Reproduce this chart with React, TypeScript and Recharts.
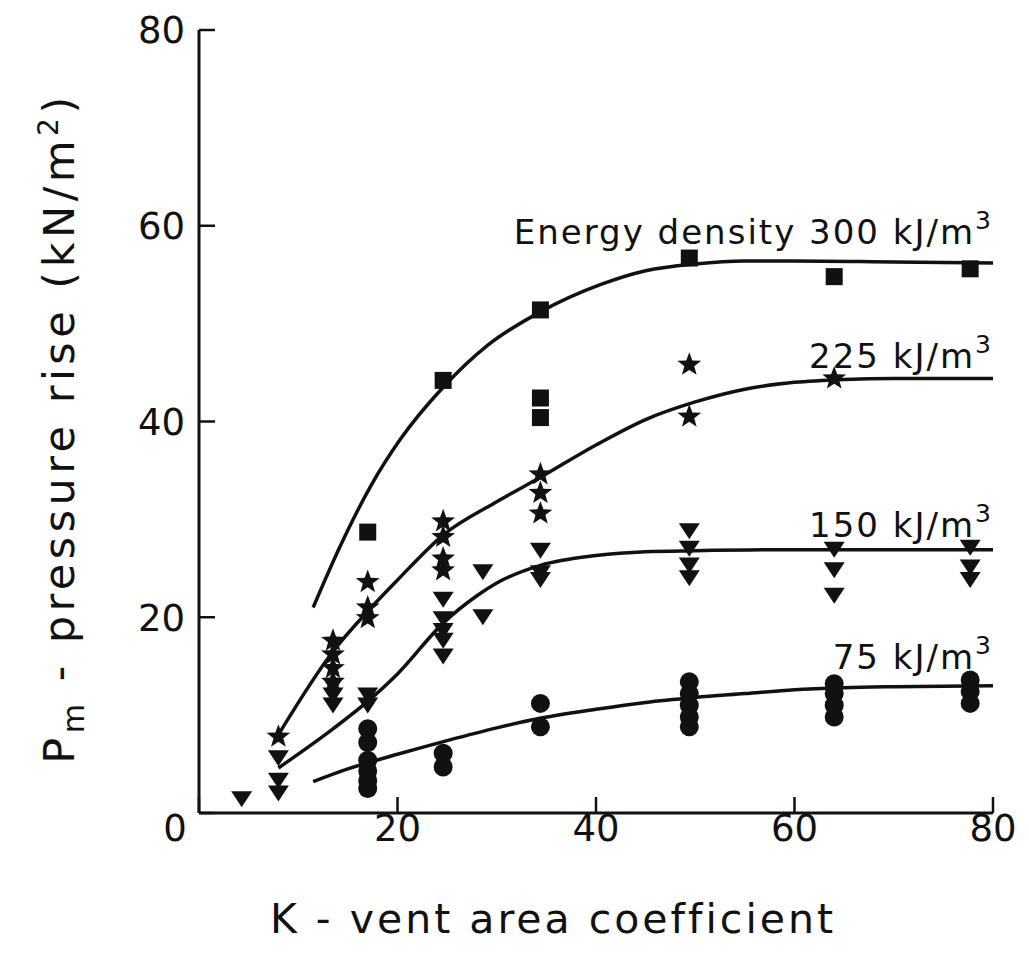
import { ComposedChart, Scatter, Line, XAxis, YAxis, Customized } from 'recharts';

const INK = '#111';
const FONT = '"DejaVu Sans", sans-serif';

// measured points: K (vent area coefficient) vs Pm (kN/m2)
const pts300 = [
  { k: 17, p: 28.7 }, { k: 24.6, p: 44.2 },
  { k: 34.4, p: 51.4 }, { k: 34.4, p: 42.4 }, { k: 34.4, p: 40.4 },
  { k: 49.4, p: 56.7 }, { k: 64, p: 54.8 }, { k: 77.7, p: 55.6 },
];
const pts225 = [
  { k: 8, p: 7.8 },
  { k: 13.5, p: 17.6 }, { k: 13.5, p: 16.2 }, { k: 13.5, p: 14.8 }, { k: 13.5, p: 13.4 },
  { k: 17, p: 23.6 }, { k: 17, p: 21 }, { k: 17, p: 19.9 },
  { k: 24.6, p: 29.8 }, { k: 24.6, p: 28.2 }, { k: 24.6, p: 26 }, { k: 24.6, p: 24.8 },
  { k: 34.4, p: 34.6 }, { k: 34.4, p: 32.7 }, { k: 34.4, p: 30.6 },
  { k: 49.4, p: 45.8 }, { k: 49.4, p: 40.5 },
  { k: 64, p: 44.4 },
];
const pts150 = [
  { k: 4.3, p: 1.6 },
  { k: 8, p: 5.8 }, { k: 8, p: 3.5 }, { k: 8, p: 2.2 },
  { k: 13.5, p: 13.2 }, { k: 13.5, p: 12.2 }, { k: 13.5, p: 11.2 },
  { k: 17, p: 12.2 }, { k: 17, p: 11.2 },
  { k: 24.6, p: 22 }, { k: 24.6, p: 20 }, { k: 24.6, p: 18.8 }, { k: 24.6, p: 17.8 }, { k: 24.6, p: 16.2 },
  { k: 28.6, p: 24.8 }, { k: 28.6, p: 20.2 },
  { k: 34.4, p: 27 }, { k: 34.4, p: 24.7 }, { k: 34.4, p: 24 },
  { k: 49.4, p: 29 }, { k: 49.4, p: 27.2 }, { k: 49.4, p: 25.5 }, { k: 49.4, p: 24.2 },
  { k: 64, p: 27.1 }, { k: 64, p: 25 }, { k: 64, p: 22.4 },
  { k: 77.7, p: 27.3 }, { k: 77.7, p: 25.3 }, { k: 77.7, p: 24 },
];
const pts75 = [
  { k: 17, p: 8.6 }, { k: 17, p: 7.2 }, { k: 17, p: 5.4 }, { k: 17, p: 4.3 }, { k: 17, p: 3.3 }, { k: 17, p: 2.5 },
  { k: 24.6, p: 6.1 }, { k: 24.6, p: 4.7 },
  { k: 34.4, p: 11.2 }, { k: 34.4, p: 8.8 },
  { k: 49.4, p: 13.4 }, { k: 49.4, p: 12.2 }, { k: 49.4, p: 11 }, { k: 49.4, p: 9.8 }, { k: 49.4, p: 8.8 },
  { k: 64, p: 13.2 }, { k: 64, p: 12.2 }, { k: 64, p: 11 }, { k: 64, p: 9.8 },
  { k: 77.7, p: 13.6 }, { k: 77.7, p: 12.4 }, { k: 77.7, p: 11.2 },
];

// hand-drawn fitted curves
const curve300 = [
  { k: 11.5, p: 21 }, { k: 14.2, p: 27.2 }, { k: 17.3, p: 33.4 }, { k: 20.3, p: 38.2 },
  { k: 24.6, p: 43.5 }, { k: 29.1, p: 47.8 }, { k: 34.4, p: 51.2 }, { k: 40.5, p: 54 },
  { k: 45, p: 55.4 }, { k: 50, p: 56.1 }, { k: 55, p: 56.4 }, { k: 60, p: 56.4 },
  { k: 70, p: 56.3 }, { k: 80, p: 56.2 },
];
const curve225 = [
  { k: 8, p: 8 }, { k: 13.5, p: 16.5 }, { k: 17, p: 20.6 }, { k: 20, p: 23.8 },
  { k: 24.6, p: 28.4 }, { k: 30, p: 31.8 }, { k: 34.4, p: 34.3 }, { k: 40, p: 37.6 },
  { k: 45, p: 40.2 }, { k: 50, p: 42 }, { k: 55, p: 43.3 }, { k: 60, p: 44 },
  { k: 65, p: 44.3 }, { k: 70, p: 44.4 }, { k: 80, p: 44.4 },
];
const curve150 = [
  { k: 8, p: 4.6 }, { k: 13.5, p: 8.6 }, { k: 17, p: 11.4 }, { k: 20, p: 14.2 },
  { k: 24.6, p: 19.4 }, { k: 28, p: 22.2 }, { k: 30, p: 23.5 }, { k: 34.4, p: 25.3 },
  { k: 40, p: 26.3 }, { k: 45, p: 26.7 }, { k: 50, p: 26.8 }, { k: 60, p: 26.9 }, { k: 80, p: 26.9 },
];
const curve75 = [
  { k: 11.5, p: 3.2 }, { k: 15, p: 4.5 }, { k: 20, p: 6 }, { k: 25, p: 7.4 },
  { k: 30, p: 8.7 }, { k: 34.5, p: 9.7 }, { k: 40, p: 10.6 }, { k: 45, p: 11.3 },
  { k: 50, p: 11.8 }, { k: 55, p: 12.2 }, { k: 60, p: 12.6 }, { k: 65, p: 12.8 },
  { k: 70, p: 12.9 }, { k: 80, p: 13 },
];

const kTicks = [0, 20, 40, 60, 80];
const pTicks = [0, 20, 40, 60, 80];

const Square = (props: any) => (
  <rect x={props.cx - 8.5} y={props.cy - 8.5} width={17} height={17} fill={INK} />
);

const Star = (props: any) => {
  const { cx, cy } = props;
  let d = '';
  for (let i = 0; i < 10; i++) {
    const r = i % 2 === 0 ? 12.5 : 5.2;
    const a = -Math.PI / 2 + (i * Math.PI) / 5;
    d += (i === 0 ? 'M' : 'L') + (cx + r * Math.cos(a)).toFixed(2) + ',' + (cy + r * Math.sin(a)).toFixed(2);
  }
  return <path d={d + 'Z'} fill={INK} />;
};

const TriDown = (props: any) => {
  const { cx, cy } = props;
  return <path d={`M${cx - 10.5},${cy - 6} L${cx + 10.5},${cy - 6} L${cx},${cy + 10} Z`} fill={INK} />;
};

const Dot = (props: any) => <circle cx={props.cx} cy={props.cy} r={9.5} fill={INK} />;

const KTick = (props: any) => {
  const v = props.payload.value;
  return (
    <text x={v === 0 ? props.x - 24 : props.x} y={props.y} dy="0.71em" textAnchor="middle"
      fontSize={37} fontFamily={FONT} fill={INK}>{v}</text>
  );
};

const PTick = (props: any) => {
  const v = props.payload.value;
  if (v === 0) return <g />;
  return (
    <text x={props.x} y={props.y} dy="0.36em" textAnchor="end"
      fontSize={37} fontFamily={FONT} fill={INK}>{v}</text>
  );
};

const Texts = () => {
  const lbl = { fontFamily: FONT, fill: INK, textAnchor: 'end' as const, fontSize: 34, letterSpacing: 2 };
  const sup = (s: string) => <tspan dy={-15} fontSize={25}>{s}</tspan>;
  return (
    <g>
      <text x={985} y={236} {...lbl}>Energy density 300 kJ/m{sup('3')}</text>
      <text x={985} y={360} {...lbl}>225 kJ/m{sup('3')}</text>
      <text x={985} y={529} {...lbl}>150 kJ/m{sup('3')}</text>
      <text x={985} y={661} {...lbl}>75 kJ/m{sup('3')}</text>
      <text x={545} y={925} fontSize={41} letterSpacing={3} fontFamily={FONT} fill={INK} textAnchor="middle">
        K - vent area coefficient
      </text>
      <text x={66} y={420} transform="rotate(-90 66 420)" fontSize={43} letterSpacing={4.5} fontFamily={FONT} fill={INK} textAnchor="middle">
        P<tspan dy={10} fontSize={30}>m</tspan>
        <tspan dy={-10}> - pressure rise  (kN/m</tspan>
        <tspan dy={-16} fontSize={28}>2</tspan>
        <tspan dy={16}>)</tspan>
      </text>
    </g>
  );
};

export default function App() {
  return (
    <ComposedChart width={1021} height={964} margin={{ top: 22, right: 36, left: 0, bottom: 0 }}>
      <XAxis type="number" dataKey="k" domain={[0, 80]} ticks={kTicks} allowDataOverflow
        height={159} axisLine={{ stroke: INK, strokeWidth: 3 }} tickLine={{ stroke: INK, strokeWidth: 2.5 }}
        tickSize={-16} tickMargin={18} tick={KTick} interval={0} />
      <YAxis type="number" dataKey="p" domain={[0, 80]} ticks={pTicks} allowDataOverflow
        width={191} axisLine={{ stroke: INK, strokeWidth: 3 }} tickLine={{ stroke: INK, strokeWidth: 2.5 }}
        tickSize={-16} tickMargin={30} tick={PTick} interval={0} />
      <Line data={curve300} dataKey="p" type="monotone" dot={false} stroke={INK} strokeWidth={3.5} isAnimationActive={false} />
      <Line data={curve225} dataKey="p" type="monotone" dot={false} stroke={INK} strokeWidth={3.5} isAnimationActive={false} />
      <Line data={curve150} dataKey="p" type="monotone" dot={false} stroke={INK} strokeWidth={3.5} isAnimationActive={false} />
      <Line data={curve75} dataKey="p" type="monotone" dot={false} stroke={INK} strokeWidth={3.5} isAnimationActive={false} />
      <Scatter data={pts300} dataKey="p" shape={Square} isAnimationActive={false} />
      <Scatter data={pts225} dataKey="p" shape={Star} isAnimationActive={false} />
      <Scatter data={pts150} dataKey="p" shape={TriDown} isAnimationActive={false} />
      <Scatter data={pts75} dataKey="p" shape={Dot} isAnimationActive={false} />
      <Customized component={Texts} />
    </ComposedChart>
  );
}
